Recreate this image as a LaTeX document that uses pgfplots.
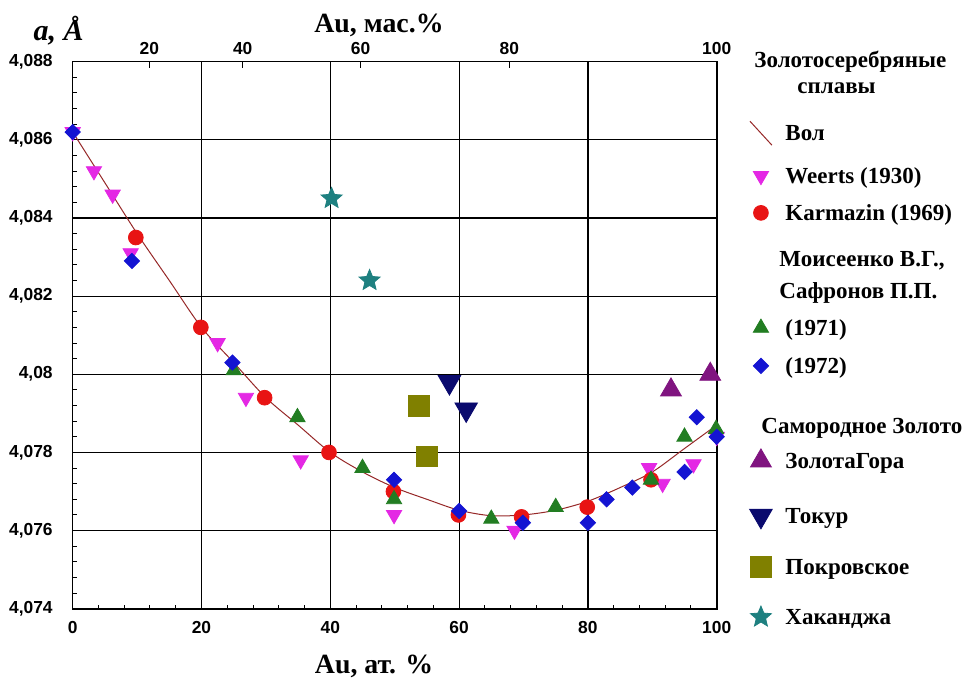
\documentclass[border=0pt]{standalone}
\usepackage{fontspec}
\setmainfont{Liberation Serif}
\setsansfont{Liberation Sans}
\usepackage{pgfplots}
\pgfplotsset{compat=1.18}

\definecolor{wmag}{RGB}{228,40,228}
\definecolor{kred}{RGB}{232,20,20}
\definecolor{mgreen}{RGB}{34,125,34}
\definecolor{mblue}{RGB}{20,20,210}
\definecolor{zpurple}{RGB}{128,20,128}
\definecolor{tnavy}{RGB}{10,10,110}
\definecolor{polive}{RGB}{128,128,0}
\definecolor{hteal}{RGB}{30,128,128}
\definecolor{volc}{RGB}{150,40,40}

\pgfdeclareplotmark{fstar}{%
  \pgfpathmoveto{\pgfqpointpolar{90}{\pgfplotmarksize}}%
  \pgfpathlineto{\pgfqpointpolar{126}{0.45\pgfplotmarksize}}%
  \pgfpathlineto{\pgfqpointpolar{162}{\pgfplotmarksize}}%
  \pgfpathlineto{\pgfqpointpolar{198}{0.45\pgfplotmarksize}}%
  \pgfpathlineto{\pgfqpointpolar{234}{\pgfplotmarksize}}%
  \pgfpathlineto{\pgfqpointpolar{270}{0.45\pgfplotmarksize}}%
  \pgfpathlineto{\pgfqpointpolar{306}{\pgfplotmarksize}}%
  \pgfpathlineto{\pgfqpointpolar{342}{0.45\pgfplotmarksize}}%
  \pgfpathlineto{\pgfqpointpolar{18}{\pgfplotmarksize}}%
  \pgfpathlineto{\pgfqpointpolar{54}{0.45\pgfplotmarksize}}%
  \pgfpathclose
  \pgfusepathqfillstroke}

\pgfplotsset{lg/.style={legend image code/.code={\draw[##1] plot coordinates {(0pt,#1)};}}}

\newcommand\ls[1]{\rule[-5pt]{0pt}{#1pt}}

\begin{document}
\begin{tikzpicture}
\useasboundingbox (-36.35pt,-35.15pt) rectangle (447.65pt,304.35pt);
\begin{axis}[
  at={(0pt,0pt)}, anchor=south west,
  scale only axis, width=322pt, height=273.5pt,
  xmin=0, xmax=100, ymin=4.074, ymax=4.088,
  xtick={0,20,40,60,80,100},
  ytick={4.074,4.076,4.078,4.08,4.082,4.084,4.086,4.088},
  yticklabels={{4,074},{4,076},{4,078},{4,08},{4,082},{4,084},{4,086},{4,088}},
  minor x tick num=4, minor y tick num=4,
  xtick pos=bottom, ytick pos=left,
  tick align=inside,
  major tick length=0pt, minor tick length=2pt,
  grid=major, major grid style={black, line width=0.6pt},
  axis line style={black, line width=0.8pt},
  tick style={black, line width=0.5pt},
  ticklabel style={font=\fontsize{8.7}{10}\selectfont\sffamily\bfseries},
  /pgf/number format/assume math mode=true,
  xticklabel style={yshift=-3pt},
  yticklabel style={xshift=-6.5pt},
  scaled y ticks=false,
  clip=false,
  legend cell align=left,
  legend style={draw=none, fill=none, inner sep=0pt,
    at={(1.0502,1.0258)}, anchor=north west,
    font=\fontsize{11.5}{13}\selectfont\bfseries,
    column sep=6.5pt, row sep=0pt, nodes={inner sep=0pt}},
]
\addlegendimage{empty legend}\addlegendentry{\hspace*{-15.5pt}\ls{15}Золотосеребряные}
\addlegendimage{empty legend}\addlegendentry{\hspace*{6pt}\ls{16.5}сплавы}

\addplot[volc, line width=0.5pt, smooth, no marks,
  legend image code/.code={\draw[volc,line width=0.5pt](-5.5pt,-0.35pt)--(5.5pt,-12.35pt);}]
  coordinates {(0,4.0862)(5,4.0849)(10,4.0836)(15,4.0824)(20,4.0812)(25,4.0803)
  (30,4.0794)(35,4.0787)(40,4.0780)(45,4.0775)(50,4.0771)(55,4.0768)(60,4.07652)
  (65,4.07638)(70,4.0764)(75,4.07652)(80,4.07675)(85,4.0771)(90,4.0775)(95,4.0781)(100,4.0787)};
\addlegendentry{\ls{27}Вол}

\addplot[only marks, mark=triangle*, mark size=4.4pt, mark options={rotate=180, fill=wmag, draw=wmag}, lg=-4.85pt]
  coordinates {(0,4.0862)(3.3,4.0852)(6.2,4.0846)(9.0,4.0831)(22.5,4.0808)(26.9,4.0794)
  (35.4,4.0778)(49.9,4.0764)(68.6,4.0760)(89.5,4.0776)(91.6,4.0772)(96.4,4.0777)(100,4.0784)};
\addlegendentry{\ls{24}Weerts (1930)}

\addplot[only marks, mark=*, mark size=3.7pt, mark options={fill=kred, draw=kred}, lg=-3.85pt]
  coordinates {(9.8,4.0835)(19.9,4.0812)(29.8,4.0794)(39.8,4.0780)(49.8,4.0770)
  (59.9,4.0764)(69.7,4.07635)(79.9,4.0766)(89.8,4.0773)};
\addlegendentry{\ls{22}Karmazin (1969)}

\addlegendimage{empty legend}\addlegendentry{\hspace*{-3pt}\ls{26.5}Моисеенко В.Г.,}
\addlegendimage{empty legend}\addlegendentry{\hspace*{-3pt}\ls{19.5}Сафронов П.П.}

\addplot[only marks, mark=triangle*, mark size=4.4pt, mark options={fill=mgreen, draw=mgreen}, lg=-3.85pt]
  coordinates {(25.0,4.0801)(34.9,4.0789)(45.0,4.0776)(49.9,4.0768)(65.0,4.0763)
  (75.0,4.0766)(89.8,4.0773)(95.0,4.0784)(99.9,4.0786)};
\addlegendentry{\ls{22}(1971)}

\addplot[only marks, mark=square*, mark size=2.7pt, mark options={rotate=45, fill=mblue, draw=mblue}, lg=-4.1pt]
  coordinates {(0,4.0862)(9.2,4.0829)(24.8,4.0803)(49.9,4.0773)(60.0,4.0765)(69.9,4.0762)
  (80.0,4.0762)(82.9,4.0768)(86.9,4.0771)(95.0,4.0775)(96.9,4.0789)(100,4.0784)};
\addlegendentry{\ls{22.5}(1972)}

\addlegendimage{empty legend}\addlegendentry{\hspace*{-12pt}\ls{33.5}Самородное Золото}

\addplot[only marks, mark=triangle*, mark size=6pt, mark options={fill=zpurple, draw=zpurple}, lg=-3.35pt]
  coordinates {(92.9,4.0796)(99.0,4.0800)};
\addlegendentry{\ls{21}ЗолотаГора}

\addplot[only marks, mark=triangle*, mark size=6.5pt, mark options={rotate=180, fill=tnavy, draw=tnavy}, lg=-8.35pt]
  coordinates {(58.5,4.0798)(61.1,4.0791)};
\addlegendentry{\ls{31}Токур}

\addplot[only marks, mark=square*, mark size=5.2pt, mark options={fill=polive, draw=polive}, lg=-6.85pt]
  coordinates {(53.8,4.0792)(55.0,4.0779)};
\addlegendentry{\ls{28}Покровское}

\addplot[only marks, mark=fstar, mark size=5.5pt, mark options={fill=hteal, draw=hteal}, lg=-7.1pt]
  coordinates {(40.2,4.0845)(46.1,4.0824)};
\addlegendentry{\ls{28.5}Хаканджа}

\node[font=\fontsize{13.9}{15}\selectfont\bfseries, anchor=base] at (axis description cs:0.4756,1.0525) {Au, мас.\%};
\node[font=\fontsize{13.9}{15}\selectfont\bfseries, anchor=base] at (axis description cs:0.468,-0.1176) {Au, ат. \%};
\node[font=\fontsize{15}{17}\selectfont\bfseries\itshape, anchor=base] at (axis description cs:-0.022,1.0384) {a, Å};
\end{axis}

\begin{axis}[
  at={(0pt,0pt)}, anchor=south west,
  scale only axis, width=322pt, height=273.5pt,
  xmin=0, xmax=100, ymin=0, ymax=1,
  axis x line*=top, axis y line=none,
  xtick={11.9,26.4,44.7,67.8,100},
  xticklabels={20,40,60,80,100},
  tick align=inside, major tick length=3pt,
  tick style={black, line width=0.5pt},
  axis line style={black, line width=0.8pt},
  ticklabel style={font=\fontsize{8.7}{10}\selectfont\sffamily\bfseries},
]
\end{axis}
\end{tikzpicture}
\end{document}
